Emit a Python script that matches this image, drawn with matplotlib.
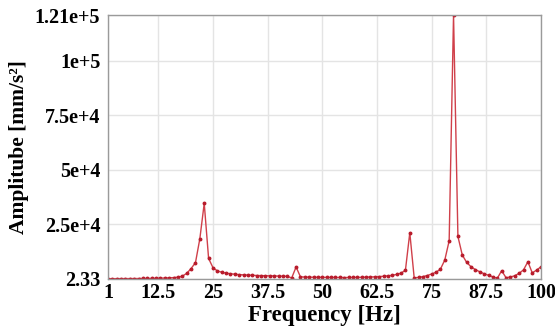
import numpy as np
import matplotlib
matplotlib.use("Agg")
import matplotlib.pyplot as plt

# spectrum, one point per Hz
freq = np.arange(1, 101)
amp = [150, 150, 160, 170, 180, 190, 200, 220, 240, 260,
       290, 330, 380, 440, 520, 650, 850, 1300, 2600, 4800,
       7500, 18500, 34700, 9400, 5200, 3700, 3100, 2700, 2400, 2200,
       2000, 1900, 1800, 1700, 1600, 1550, 1500, 1450, 1400, 1350,
       1300, 1200, 500, 5500, 1000, 900, 850, 800, 780, 760,
       740, 720, 700, 690, 680, 690, 710, 740, 780, 840,
       920, 1000, 1100, 1250, 1450, 1700, 2100, 2700, 4000, 21200,
       600, 700, 1100, 1600, 2300, 3100, 4500, 8700, 17500, 121000,
       19500, 11000, 7600, 5600, 4300, 3300, 2400, 1700, 1000, 300,
       3800, 600, 900, 1500, 2600, 4200, 7900, 2800, 4100, 5600]

xticks = [1, 12.5, 25, 37.5, 50, 62.5, 75, 87.5, 100]
xtick_labels = ["1", "12.5", "25", "37.5", "50", "62.5", "75", "87.5", "100"]
yticks = [2.33, 25000, 50000, 75000, 100000, 121000]
ytick_labels = ["2.33", "2.5e+4", "5e+4", "7.5e+4", "1e+5", "1.21e+5"]

plt.rcParams["font.family"] = ["Liberation Serif", "DejaVu Serif"]
plt.rcParams["font.weight"] = "bold"

fig = plt.figure(figsize=(5.55, 3.34), dpi=100)
ax = fig.add_axes([0.1946, 0.1647, 0.7802, 0.7903])

ax.plot(freq, amp, color="#d0404a", lw=1.0, marker="o", markersize=1.8,
        markerfacecolor="#b81c2c", markeredgecolor="#b81c2c")

ax.set_xlim(1, 100)
ax.set_ylim(2.33, 121000)
ax.set_xticks(xticks)
ax.set_xticklabels(xtick_labels, fontsize=14.5, fontweight="bold")
ax.set_yticks(yticks)
ax.set_yticklabels(ytick_labels, fontsize=14.5, fontweight="bold")
ax.tick_params(axis="y", length=0, pad=5.5)
ax.tick_params(axis="x", length=0, pad=3)

ax.grid(color="#e4e4e4", lw=1.0)
ax.set_axisbelow(True)
for s in ax.spines.values():
    s.set_color("#9a9a9a")
    s.set_linewidth(1.0)

ax.set_xlabel("Frequency [Hz]", fontsize=16.5, fontweight="bold", labelpad=1)
ax.set_ylabel("Amplitube [mm/s²]", fontsize=15.5, fontweight="bold", labelpad=4)

fig.savefig("out.png", dpi=100)
